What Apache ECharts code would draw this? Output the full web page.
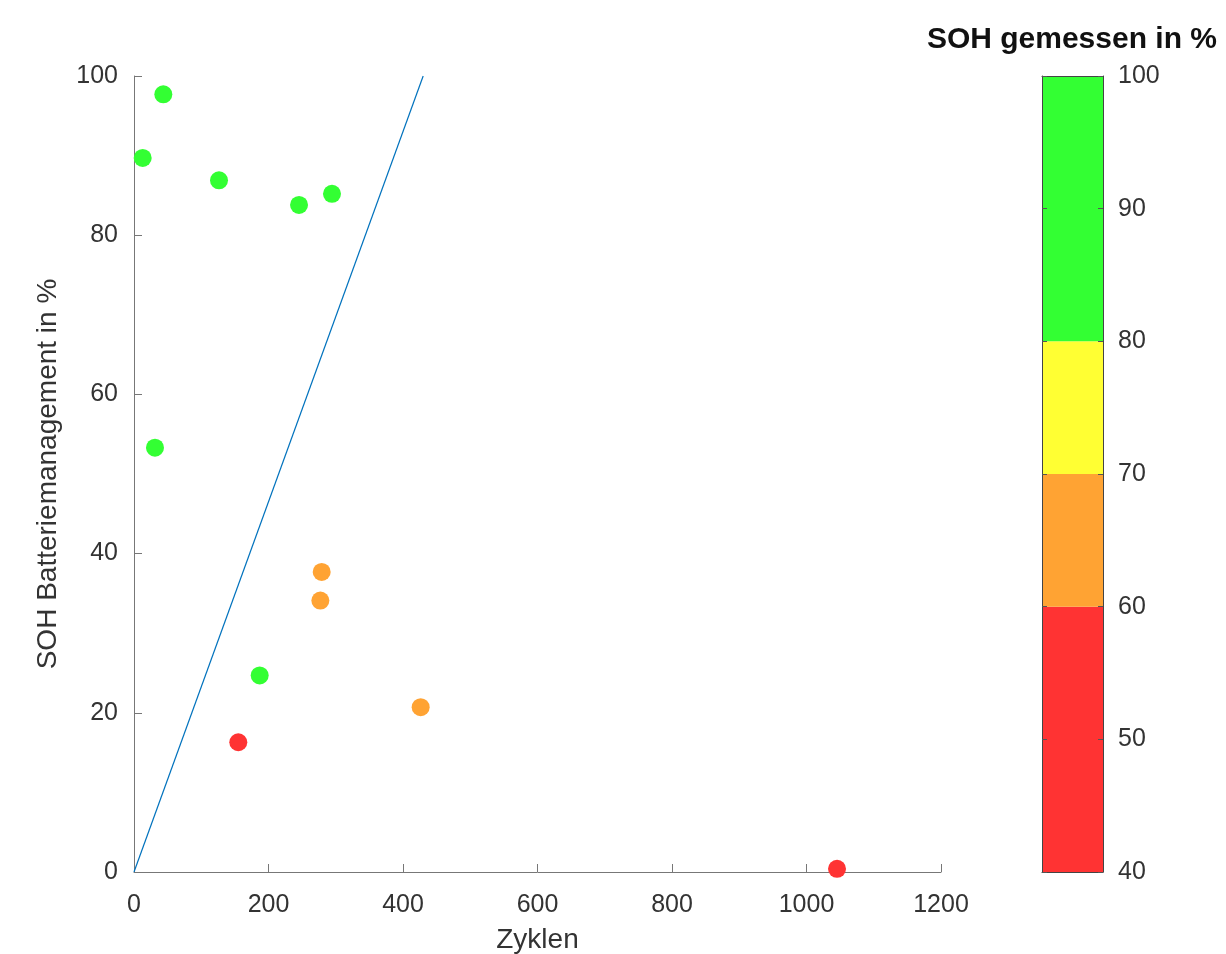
<!DOCTYPE html>
<html>
<head>
<meta charset="utf-8">
<script src="https://cdn.jsdelivr.net/npm/echarts@6/dist/echarts.min.js"></script>
<style>html,body{margin:0;padding:0;background:#fff}#c{width:1226px;height:954px}</style>
</head>
<body>
<div id="c"></div>
<script>
// Data
const zyklen = [43.6, 12.9, 126.4, 245.4, 294.4, 31.2, 279.1, 277.1, 186.9, 426.3, 155.1, 1045.4];
const sohBms = [97.7, 89.7, 86.9, 83.8, 85.2, 53.3, 37.7, 34.1, 24.7, 20.7, 16.3, 0.4];
// measured SOH (only the colour class is readable: representative value of each class)
const sohGemessen = [90, 90, 90, 90, 90, 90, 65, 65, 90, 65, 50, 50];
const refLineX = [0, 430];
const refLineY = [0, 100];
const xTicks = [0, 200, 400, 600, 800, 1000, 1200];
const yTicks = [0, 20, 40, 60, 80, 100];
const cbBounds = [40, 60, 70, 80, 100];
const cbColors = ['#ff3333', '#ffa333', '#ffff33', '#33ff33'];

const FONT = 'Liberation Sans';
const TXT = '#333333';
const AX = '#777777';

const scatterData = zyklen.map((x, i) => [x, sohBms[i], sohGemessen[i]]);
const lineData = refLineX.map((x, i) => [x, refLineY[i]]);

const cbSeries = [{
  type: 'bar', xAxisIndex: 1, yAxisIndex: 1, stack: 'cb', silent: true,
  data: [cbBounds[0]], itemStyle: { color: 'rgba(0,0,0,0)' }, barWidth: '100%'
}];
for (let i = 0; i < cbColors.length; i++) {
  cbSeries.push({
    type: 'bar', xAxisIndex: 1, yAxisIndex: 1, stack: 'cb', silent: true,
    data: [cbBounds[i + 1] - cbBounds[i]], barWidth: '100%',
    itemStyle: { color: cbColors[i] }, z: 1
  });
}

const chart = echarts.init(document.getElementById('c'), null, { renderer: 'canvas' });
chart.setOption({
  animation: false,
  backgroundColor: '#ffffff',
  textStyle: { fontFamily: FONT },
  title: {
    text: 'SOH gemessen in %', right: 4, top: 20,
    textStyle: { fontFamily: FONT, fontWeight: 'bold', fontSize: 30, color: '#111' }
  },
  grid: [
    { left: 134, right: 285, top: 76, bottom: 82, outerBoundsMode: 'none', containLabel: false },
    { left: 1042, width: 61, top: 76, bottom: 82, outerBoundsMode: 'none', containLabel: false }
  ],
  xAxis: [
    {
      type: 'value', gridIndex: 0, min: xTicks[0], max: xTicks[xTicks.length - 1], interval: 200,
      name: 'Zyklen', nameLocation: 'middle', nameGap: 54,
      nameTextStyle: { fontFamily: FONT, fontSize: 28, color: TXT },
      axisLine: { show: true, onZero: false, lineStyle: { color: AX, width: 1 } },
      axisTick: { show: true, inside: true, length: 8, lineStyle: { color: AX } },
      axisLabel: { fontFamily: FONT, fontSize: 25, color: TXT, margin: 21, formatter: v => String(v) },
      splitLine: { show: false }
    },
    {
      type: 'category', gridIndex: 1, data: [''], z: 5,
      axisLine: { show: true, lineStyle: { color: '#444' } },
      axisTick: { show: false }, axisLabel: { show: false }
    },
    {
      type: 'category', gridIndex: 1, data: [''], position: 'top', z: 5,
      axisLine: { show: true, lineStyle: { color: '#444' } },
      axisTick: { show: false }, axisLabel: { show: false }
    }
  ],
  yAxis: [
    {
      type: 'value', gridIndex: 0, min: yTicks[0], max: yTicks[yTicks.length - 1], interval: 20,
      name: 'SOH Batteriemanagement in %', nameLocation: 'middle', nameGap: 72,
      nameTextStyle: { fontFamily: FONT, fontSize: 28, color: TXT },
      axisLine: { show: true, onZero: false, lineStyle: { color: AX, width: 1 } },
      axisTick: { show: true, inside: true, length: 8, lineStyle: { color: AX } },
      axisLabel: { fontFamily: FONT, fontSize: 25, color: TXT, margin: 16 },
      splitLine: { show: false }
    },
    {
      type: 'value', gridIndex: 1, position: 'right', min: 40, max: 100, interval: 10, z: 5,
      axisLine: { show: true, lineStyle: { color: '#444' } },
      axisTick: { show: true, inside: true, length: 5, lineStyle: { color: '#555' } },
      axisLabel: { fontFamily: FONT, fontSize: 25, color: TXT, margin: 15 },
      splitLine: { show: false }
    },
    {
      type: 'value', gridIndex: 1, position: 'left', min: 40, max: 100, interval: 10, z: 5,
      axisLine: { show: true, lineStyle: { color: '#444' } },
      axisTick: { show: true, inside: true, length: 5, lineStyle: { color: '#555' } },
      axisLabel: { show: false },
      splitLine: { show: false }
    }
  ],
  visualMap: {
    show: false, type: 'piecewise', seriesIndex: 1, dimension: 2,
    pieces: [
      { gte: 40, lt: 60, color: cbColors[0] },
      { gte: 60, lt: 70, color: cbColors[1] },
      { gte: 70, lt: 80, color: cbColors[2] },
      { gte: 80, lte: 100, color: cbColors[3] }
    ]
  },
  series: [
    {
      type: 'line', xAxisIndex: 0, yAxisIndex: 0, data: lineData, showSymbol: false,
      lineStyle: { color: '#0072BD', width: 1.2 }, silent: true, z: 2
    },
    {
      type: 'scatter', xAxisIndex: 0, yAxisIndex: 0, data: scatterData,
      symbolSize: 18, itemStyle: { opacity: 1 }, z: 3
    }
  ].concat(cbSeries)
});
</script>
</body>
</html>
